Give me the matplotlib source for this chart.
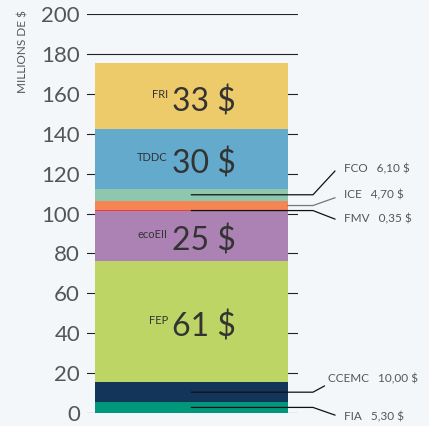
import matplotlib
matplotlib.use("Agg")
import matplotlib.pyplot as plt
import numpy as np

# Stack order, bottom to top
funds = ["FIA", "CCEMC", "FEP", "ecoEII", "FMV", "ICE", "FCO", "TDDC", "FRI"]
amounts = [5.30, 10.00, 61, 25, 0.35, 4.70, 6.10, 30, 33]
colors = ["#00977B", "#13355A", "#BCD564", "#AC82B4", "#EE3A3A",
          "#F58553", "#8DC8AE", "#64AACD", "#EECB6A"]

# Funds labelled inside the bar vs. with a callout on the right
inside = ["FEP", "ecoEII", "TDDC", "FRI"]
callouts = ["FIA", "CCEMC", "FMV", "ICE", "FCO"]
callout_text = ["FIA   5,30 $", "CCEMC   10,00 $", "FMV   0,35 $",
                "ICE   4,70 $", "FCO   6,10 $"]

yticks = np.arange(0, 201, 20)

BG = "#F3F7FA"
TXT = "#555555"
DARK = "#333333"
FONT = ["Lato", "DejaVu Sans"]
plt.rcParams["font.family"] = FONT

W, H = 429, 426
fig = plt.figure(figsize=(W / 100, H / 100), dpi=100, facecolor=BG)
# axes spans the gridline extent (pixels 87..298 horizontally)
ax = fig.add_axes([87 / W, 13.3 / H, 211 / W, 398.4 / H], facecolor=BG)

bar_w = 0.915
xc = 0.0
ax.set_xlim(-0.495, 0.505)
ax.set_ylim(0, 200)

bottoms = np.concatenate([[0], np.cumsum(amounts)[:-1]])
ax.bar(xc, amounts, bottom=bottoms, width=bar_w, color=colors,
       linewidth=0, zorder=2)

ax.set_yticks(yticks)
ax.set_yticklabels([str(t) for t in yticks], fontsize=16, color=TXT)
ax.tick_params(axis="y", length=0, pad=5)
ax.set_xticks([])
ax.yaxis.grid(True, color="#222222", linewidth=0.8, zorder=1)
ax.set_axisbelow(True)
for s in ax.spines.values():
    s.set_visible(False)

fig.text(23 / W, 1 - 52 / H, "MILLIONS DE $", rotation=90, fontsize=8.5,
         color=TXT, ha="center", va="center")

# big value labels inside the bar
for name in inside:
    i = funds.index(name)
    mid = bottoms[i] + amounts[i] / 2
    ax.annotate(f"{amounts[i]:g} $", (xc, mid), xytext=(-14, -4),
                textcoords="offset points", ha="left", va="center",
                fontsize=23, color=DARK, zorder=4)
    ax.annotate(name, (xc, mid), xytext=(-17, 1),
                textcoords="offset points", ha="right", va="center",
                fontsize=8, color=DARK, zorder=4)

# callout leaders: horizontal from bar centre, then a short diagonal
x_elbow = 0.576
x_end = [0.68, 0.63, 0.68, 0.68, 0.68]
y_end = [-1.2, 13.4, 97.2, 107.9, 121.3]
x_txt = [0.723, 0.645, 0.723, 0.723, 0.723]
y_txt = [-2.2, 16.8, 97.2, 109.3, 122.3]
for k, name in enumerate(callouts):
    i = funds.index(name)
    mid = bottoms[i] + amounts[i] / 2
    x0 = bar_w / 2 if name == "ICE" else xc
    lc = "#777777" if name == "ICE" else "#111111"
    ax.plot([x0, x_elbow, x_end[k]], [mid, mid, y_end[k]], color=lc,
            linewidth=0.9, clip_on=False, zorder=3)
    ax.text(x_txt[k], y_txt[k], callout_text[k], fontsize=8.5, color=TXT,
            ha="left", va="center", clip_on=False)

fig.savefig("out.png", dpi=100, facecolor=BG)
